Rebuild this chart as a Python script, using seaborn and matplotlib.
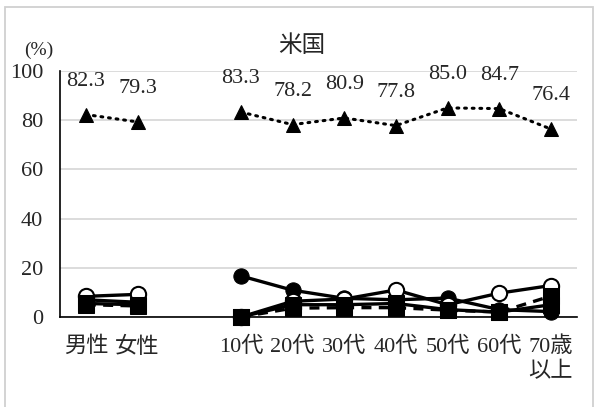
import numpy as np
import pandas as pd
import matplotlib
matplotlib.use("Agg")
import matplotlib.pyplot as plt
from matplotlib.patches import Rectangle
import seaborn as sns

# ---- data ----
categories = ["男性", "女性", "", "10代", "20代", "30代", "40代", "50代", "60代", "70歳\n以上"]
nan = np.nan
triangle_dotted = [82.3, 79.3, nan, 83.3, 78.2, 80.9, 77.8, 85.0, 84.7, 76.4]
circle_filled = [7.0, 6.0, nan, 16.7, 10.9, 7.6, 7.0, 7.7, 3.0, 2.2]
circle_open = [8.4, 9.2, nan, 0.0, 6.4, 7.3, 11.0, 5.0, 9.7, 12.8]
square_dashed = [5.0, 4.5, nan, 0.0, 3.6, 3.8, 3.8, 2.8, 2.0, 8.5]
square_solid = [5.5, 5.0, nan, 0.0, 5.0, 5.0, 5.5, 3.0, 2.0, 5.0]
triangle_labels = ["82.3", "79.3", "", "83.3", "78.2", "80.9", "77.8", "85.0", "84.7", "76.4"]

sns.set_style("white")
plt.rcParams["font.family"] = ["Liberation Serif", "Noto Sans CJK JP", "DejaVu Sans"]

fig = plt.figure(figsize=(5.94, 4.07), dpi=100)
ax = fig.add_axes([0.101, 0.2211, 0.870, 0.6045])

x = np.arange(len(categories))
segments = [slice(0, 2), slice(3, 10)]


def draw(values, **kw):
    vals = np.asarray(values, dtype=float)
    for seg in segments:
        df = pd.DataFrame({"x": x[seg], "y": vals[seg]})
        sns.lineplot(data=df, x="x", y="y", ax=ax, errorbar=None, clip_on=False,
                     color="black", markeredgecolor="black", **kw)


draw(triangle_dotted, marker="^", markersize=10, linewidth=2.2,
     linestyle=(0, (0.6, 1.9)), dash_capstyle="round")
draw(circle_filled, marker="o", markersize=11, linewidth=2.4)
draw(circle_open, marker="o", markersize=11, linewidth=2.4,
     markerfacecolor="white", markeredgewidth=1.5)
draw(square_dashed, marker="s", markersize=11, linewidth=2.4, linestyle=(0, (3, 2.2)))
draw(square_solid, marker="s", markersize=11, linewidth=2.4)

for xi, v, lab in zip(x, triangle_dotted, triangle_labels):
    if lab:
        ax.annotate(lab, (xi, v), xytext=(0, 24), textcoords="offset points",
                    ha="center", va="center", fontsize=16)

ax.set_xlim(-0.5, len(categories) - 0.5)
ax.set_ylim(0, 100)
ax.set_yticks([0, 20, 40, 60, 80, 100])
ax.tick_params(axis="y", length=0, pad=12, labelsize=16)
ax.set_xticks(x)
ax.set_xticklabels(categories)
ax.set_xticks(np.arange(-0.5, len(categories)), minor=True)
ax.tick_params(axis="x", which="major", length=0, pad=14, labelsize=16)
ax.tick_params(axis="x", which="minor", direction="in", length=4, width=1, color="black")
for t in ax.get_xticklabels():
    t.set_linespacing(1.3)
ax.set_xlabel("")
ax.set_ylabel("")

ax.yaxis.grid(True, color="#d9d9d9", linewidth=1.3)
ax.set_axisbelow(True)
for side in ["top", "right"]:
    ax.spines[side].set_visible(False)
for side in ["left", "bottom"]:
    ax.spines[side].set_color("black")
    ax.spines[side].set_linewidth(1.2)

fig.text(0.508, 0.889, "米国", ha="center", va="center", fontsize=17,
         family=["Noto Sans CJK JP"])
fig.text(0.066, 0.877, "(%)", ha="center", va="center", fontsize=14)

fig.patches.append(Rectangle((0.008, -0.01), 0.99, 0.993, transform=fig.transFigure,
                             fill=False, edgecolor="#d0d0d0", linewidth=1.3))

fig.savefig("out.png", dpi=100)
